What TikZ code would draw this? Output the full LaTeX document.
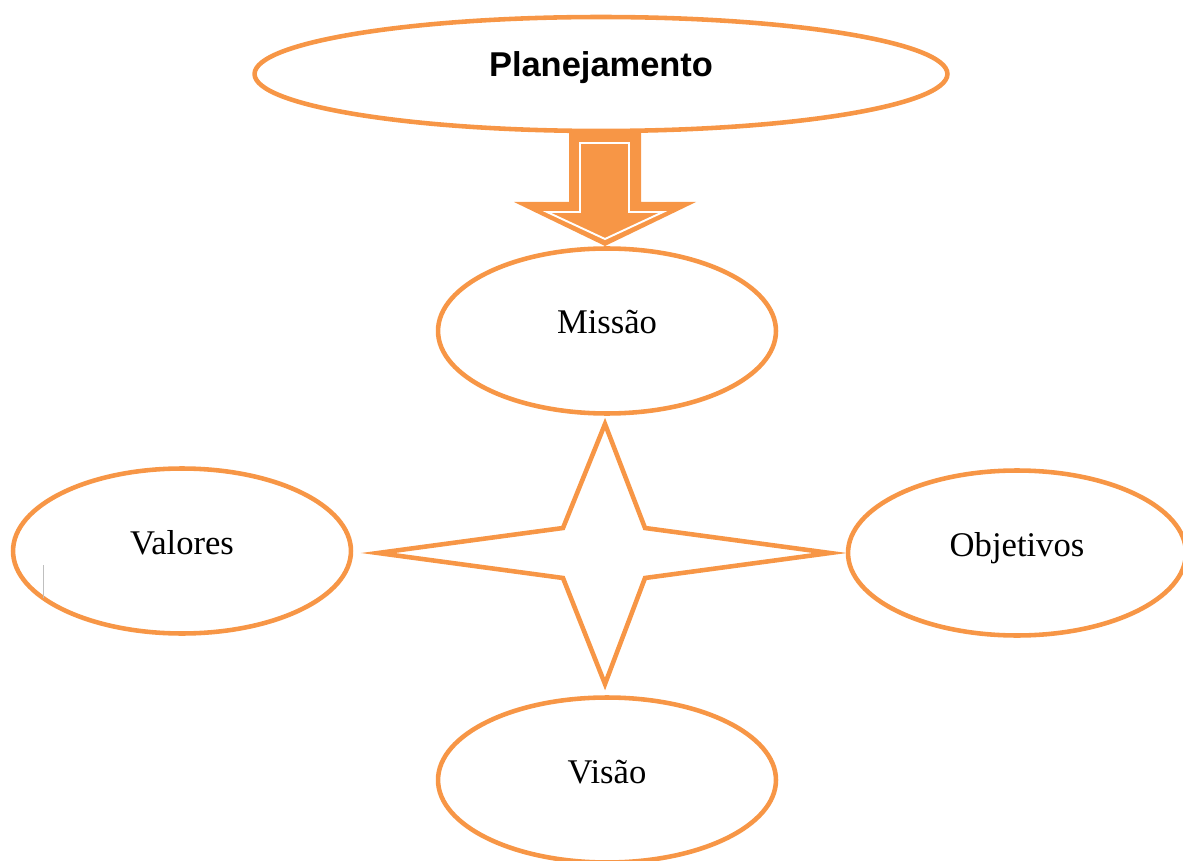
\documentclass[tikz,border=0pt]{standalone}
\usepackage{fontspec}
\setmainfont{Liberation Serif}
\newfontfamily\headfont{Liberation Sans}
\usetikzlibrary{shapes.geometric}
\definecolor{laranja}{RGB}{247,150,70}

\begin{document}
\begin{tikzpicture}[x = 0.02cm, y = -0.02cm,
		oval/.style = {ellipse, draw = laranja, line width = 2.6pt, inner sep = 0pt,
			minimum width = 6.76cm, minimum height = 3.3cm,
			text height = 0.33cm, text depth = 0.21cm,
			font = \fontsize{19.7}{24}\selectfont}]
		\useasboundingbox (0, 0) rectangle (1183, 861);
		%%%%%%%%%%%%%
		\node [oval, minimum width = 13.86cm, minimum height = 2.28cm,
			font = \headfont\bfseries\fontsize{19.6}{24}\selectfont] (plan) at (601, 74) {Planejamento};
		\node [oval] (missao) at (607, 331) {Missão};
		\node [oval] (valores) at (182, 551) {Valores};
		\node [oval] (objetivos) at (1017, 553) {Objetivos};
		\node [oval] (visao) at (607, 780) {Visão};
		%%%%%%%%%%%%%
		\fill [laranja] (569, 133) -- (641, 133) -- (641, 202) -- (696, 202) -- (605, 246)
			-- (514, 202) -- (569, 202) -- cycle;
		\draw [white, line width = 1.1pt] (580, 143) -- (629, 143) -- (629, 212) -- (663, 212)
			-- (605, 239) -- (547, 212) -- (580, 212) -- cycle;
		%%%%%%%%%%%%%
		\draw [laranja, line width = 2.6pt, line join = miter] (605, 424) -- (645, 528) -- (830, 553)
			-- (645, 578) -- (605, 684) -- (563, 578) -- (378, 553) -- (563, 528) -- cycle;
		\draw [gray!50, line width = 0.5pt] (43, 565) to (43, 598);
\end{tikzpicture}
\end{document}
